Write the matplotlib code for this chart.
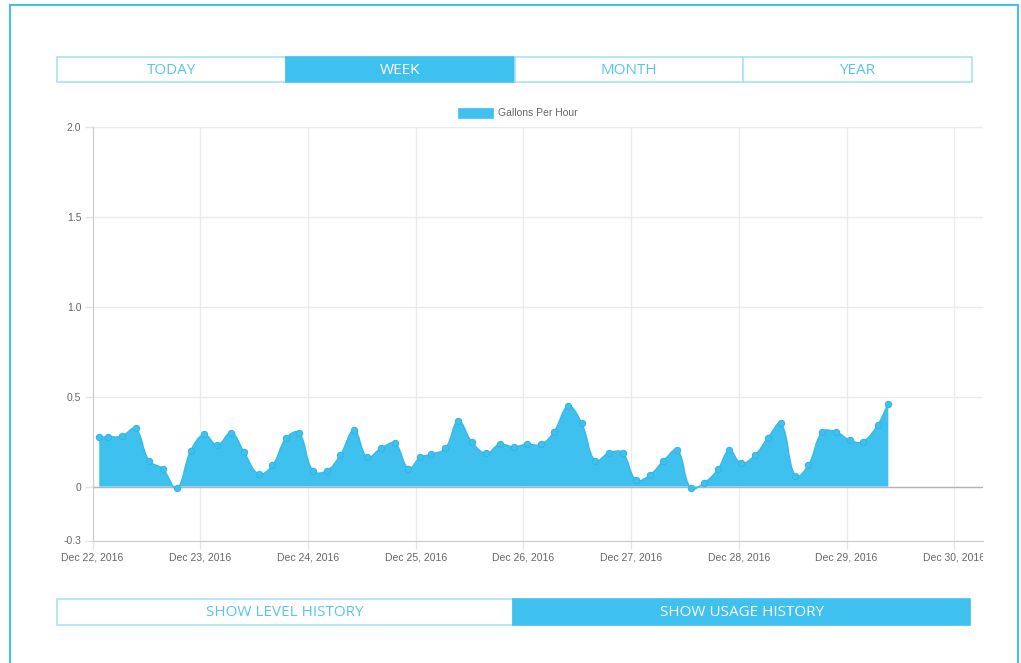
import datetime as dt
import numpy as np
import matplotlib
matplotlib.use("Agg")
import matplotlib.pyplot as plt
import matplotlib.dates as mdates
from matplotlib.path import Path
from matplotlib.patches import PathPatch, Rectangle
from matplotlib.transforms import Bbox, TransformedBbox

# data: hours after Dec 22 2016 00:00, gallons per hour
start = dt.datetime(2016, 12, 22)
hours = [1.5, 3.5, 6.5, 9.6, 12.6, 15.6, 18.8, 21.9, 24.9, 27.8,
         30.9, 33.8, 37.0, 40.1, 43.1, 46.0, 49.1, 52.2, 55.2, 58.3,
         61.2, 64.2, 67.4, 70.4, 73.0, 75.4, 78.6, 81.5, 84.5, 87.7,
         90.7, 93.8, 96.8, 99.9, 102.8, 106.0, 109.0, 112.0, 115.1, 118.1,
         121.1, 124.2, 127.2, 130.3, 133.3, 136.3, 139.3, 141.9, 144.5, 147.6,
         150.4, 153.4, 156.6, 159.5, 162.6, 165.7, 168.7, 171.6, 174.9, 177.3]
gph = [0.273, 0.277, 0.28, 0.323, 0.143, 0.10, -0.01, 0.2, 0.29, 0.23,
       0.30, 0.19, 0.07, 0.118, 0.268, 0.30, 0.088, 0.088, 0.175, 0.314,
       0.162, 0.212, 0.24, 0.10, 0.162, 0.18, 0.212, 0.366, 0.249, 0.184,
       0.236, 0.221, 0.236, 0.234, 0.304, 0.447, 0.351, 0.143, 0.188, 0.188,
       0.036, 0.064, 0.143, 0.203, -0.01, 0.021, 0.095, 0.203, 0.129, 0.175,
       0.268, 0.351, 0.058, 0.12, 0.304, 0.304, 0.258, 0.249, 0.342, 0.462]
yticks = [-0.3, 0, 0.5, 1.0, 1.5, 2.0]
ylabels = ["-0.3", "0", "0.5", "1.0", "1.5", "2.0"]
series_name = "Gallons Per Hour"
tabs = ["TODAY", "WEEK", "MONTH", "YEAR"]
tab_sel = 1
buttons = ["SHOW LEVEL HISTORY", "SHOW USAGE HISTORY"]
button_sel = 1

W, H = 1021, 663
BLUE = "#3fc1ef"
LIGHT = "#a8e2f6"
TXT = "#5cc3ec"

fig = plt.figure(figsize=(W / 100, H / 100), dpi=100)
fig.patch.set_facecolor("white")


def box(x0, y0, x1, y1, **kw):
    r = Rectangle((x0 / W, 1 - y1 / H), (x1 - x0) / W, (y1 - y0) / H,
                  transform=fig.transFigure, **kw)
    fig.add_artist(r)
    return r


def label(x, y, s, **kw):
    fig.text(x / W, 1 - y / H, s, **kw)


# outer frame
box(10, 5, 1018, 720, fill=False, edgecolor="#45c0ee", lw=1.5)

# period tabs
edges = [57, 286, 515, 743, 972]
for i, t in enumerate(tabs):
    sel = i == tab_sel
    box(edges[i], 57, edges[i + 1], 82, facecolor=BLUE if sel else "white",
        edgecolor=BLUE if sel else LIGHT, lw=1.2)
    label((edges[i] + edges[i + 1]) / 2, 70, t, ha="center", va="center",
          fontsize=11, family="Open Sans", color="white" if sel else TXT)

# bottom buttons
bedges = [57, 513, 970]
for i, t in enumerate(buttons):
    sel = i == button_sel
    box(bedges[i], 599, bedges[i + 1], 625, facecolor=BLUE if sel else "white",
        edgecolor=BLUE if sel else LIGHT, lw=1.2)
    label((bedges[i] + bedges[i + 1]) / 2, 612, t, ha="center", va="center",
          fontsize=11, family="Open Sans", color="white" if sel else TXT)

# legend
box(458, 108, 493, 118, facecolor=BLUE, edgecolor=BLUE, lw=0.5)
label(498, 113.5, series_name, ha="left", va="center", fontsize=7.5,
      family="Liberation Sans", color="#666666")

# chart
ax = fig.add_axes([92.5 / W, 1 - 540.5 / H, (982.7 - 92.5) / W, (540.5 - 127) / H])
x0 = mdates.date2num(start)
xs = x0 + np.array(hours) / 24.0
ys = np.array(gph)
ax.set_xlim(x0, x0 + 8 + 28.4 / 107.7)
ax.set_ylim(-0.3, 2.0)

# Chart.js style bezier smoothing (tension 0.4) in pixel space
pts = ax.transData.transform(np.column_stack([xs, ys]))
n = len(pts)
cp_prev = pts.copy()
cp_next = pts.copy()
for i in range(n):
    p = pts[max(i - 1, 0)]
    m = pts[i]
    a = pts[min(i + 1, n - 1)]
    d01 = np.hypot(*(m - p))
    d12 = np.hypot(*(a - m))
    tot = d01 + d12
    s01 = d01 / tot if tot else 0
    s12 = d12 / tot if tot else 0
    cp_prev[i] = m - 0.4 * s01 * (a - p)
    cp_next[i] = m + 0.4 * s12 * (a - p)

verts = [pts[0]]
codes = [Path.MOVETO]
for i in range(n - 1):
    verts += [cp_next[i], cp_prev[i + 1], pts[i + 1]]
    codes += [Path.CURVE4] * 3
line_verts = ax.transData.inverted().transform(np.array(verts))
zero = ax.transData.transform([[xs[-1], 0], [xs[0], 0]])
fill_verts = np.vstack([np.array(verts), zero, pts[:1]])
fill_verts = ax.transData.inverted().transform(fill_verts)
fill_codes = codes + [Path.LINETO, Path.LINETO, Path.CLOSEPOLY]

ax.add_patch(PathPatch(Path(fill_verts, fill_codes), facecolor=BLUE,
                       edgecolor="none", zorder=2))
ax.add_patch(PathPatch(Path(line_verts, codes), facecolor="none",
                       edgecolor="#38b9e9", lw=1.0, zorder=3))
ax.plot(xs, ys, "o", ms=4.5, color=BLUE, mec="#34b5e6", mew=0.8, zorder=4)

ax.axhline(0, color="#b5b5b5", lw=1, zorder=1)

ax.set_yticks(yticks)
ax.set_yticklabels(ylabels)
ax.xaxis.set_major_locator(mdates.DayLocator())
ax.xaxis.set_major_formatter(mdates.DateFormatter("%b %d, %Y"))
ax.grid(True, color="#ebebeb", lw=1, zorder=0)
ax.set_axisbelow(True)
for s in ["top", "right"]:
    ax.spines[s].set_visible(False)
for s in ["left", "bottom"]:
    ax.spines[s].set_color("#cccccc")
ax.tick_params(axis="both", color="#e3e3e3", length=6, width=1,
               labelcolor="#666666", labelsize=7.5)
ax.tick_params(axis="y", pad=2)
ax.tick_params(axis="x", pad=3)
for t in ax.get_xticklabels() + ax.get_yticklabels():
    t.set_family("Liberation Sans")

clip = TransformedBbox(Bbox([[0, 0], [982.7 / W, 1]]), fig.transFigure)
for t in ax.get_xticklabels():
    t.set_clip_box(clip)
    t.set_clip_on(True)

fig.savefig("out.png", dpi=100)
